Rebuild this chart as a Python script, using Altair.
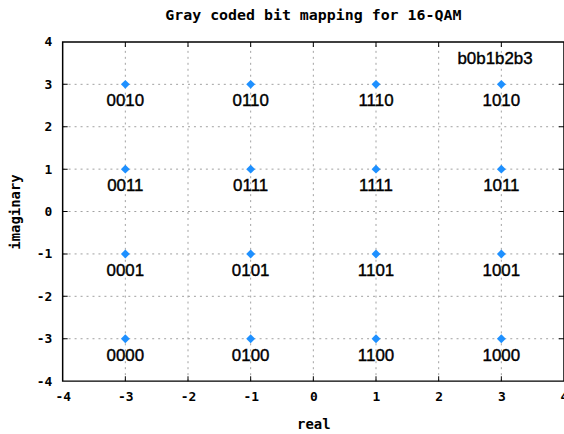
import altair as alt
import pandas as pd

re_vals = [-3, -1, 1, 3, -3, -1, 1, 3, -3, -1, 1, 3, -3, -1, 1, 3]
im_vals = [3, 3, 3, 3, 1, 1, 1, 1, -1, -1, -1, -1, -3, -3, -3, -3]
codes = ["0010", "0110", "1110", "1010",
         "0011", "0111", "1111", "1011",
         "0001", "0101", "1101", "1001",
         "0000", "0100", "1100", "1000"]
ticks = [-4, -3, -2, -1, 0, 1, 2, 3, 4]
inner = [-3, -2, -1, 0, 1, 2, 3]
edges = [-4, 4]
key_label = ["b0b1b2b3"]
key_x = [2.9]
key_y = [3.6]

df = pd.DataFrame({"re": re_vals, "im": im_vals, "code": codes})
key_df = pd.DataFrame({"re": key_x, "im": key_y, "t": key_label})
xt_df = pd.DataFrame([{"v": t, "e": e} for t in inner for e in edges])
grid_df = pd.DataFrame({"v": inner, "lo": [edges[0]] * len(inner), "hi": [edges[1]] * len(inner)})
frame_df = pd.DataFrame({"x0": [edges[0]], "x1": [edges[1]], "y0": [edges[0]], "y1": [edges[1]]})

mono = "DejaVu Sans Mono"
sans = "Liberation Sans"

xs = alt.Scale(domain=[-4, 4], nice=False, zero=False)
ys = alt.Scale(domain=[-4, 4], nice=False, zero=False)

common = dict(values=ticks, grid=False, labelFlush=False, labelOverlap=False,
              labelExpr="'' + datum.value", labelFont=mono, labelFontWeight="bold",
              labelFontSize=13, labelColor="black", titleFont=mono, titleFontWeight="bold",
              titleFontSize=14, titleColor="black", domain=False, ticks=False)
x_axis = alt.Axis(title="real", titlePadding=15, labelPadding=9, **common)
y_axis = alt.Axis(title="imaginary", titlePadding=14, labelPadding=11, **common)

gridx = alt.Chart(grid_df).mark_rule(color="#a0a0a0", strokeDash=[2, 4], strokeWidth=1).encode(
    x=alt.X("v:Q", scale=xs, axis=x_axis), y=alt.Y("lo:Q", scale=ys, axis=y_axis), y2="hi:Q"
)
gridy = alt.Chart(grid_df).mark_rule(color="#a0a0a0", strokeDash=[2, 4], strokeWidth=1).encode(
    y=alt.Y("v:Q", scale=ys), x=alt.X("lo:Q", scale=xs), x2="hi:Q"
)
frame = alt.Chart(frame_df).mark_rect(fill=None, filled=False, stroke="black", strokeWidth=1.5).encode(
    x=alt.X("x0:Q", scale=xs), x2="x1:Q", y=alt.Y("y0:Q", scale=ys), y2="y1:Q"
)
vticks = alt.Chart(xt_df).mark_tick(orient="vertical", size=10, thickness=1, color="black",
                                    clip=True, opacity=1).encode(
    x=alt.X("v:Q", scale=xs), y=alt.Y("e:Q", scale=ys)
)
hticks = alt.Chart(xt_df).mark_tick(orient="horizontal", size=10, thickness=1, color="black",
                                    clip=True, opacity=1).encode(
    x=alt.X("e:Q", scale=xs), y=alt.Y("v:Q", scale=ys)
)

base = alt.Chart(df)
pts = base.mark_point(shape="diamond", filled=True, size=80, color="#1e90ff", opacity=1).encode(
    x=alt.X("re:Q", scale=xs), y=alt.Y("im:Q", scale=ys),
)
lbl = base.mark_text(font=sans, fontSize=17, dy=17, color="black", stroke="black",
                     strokeWidth=0.4).encode(
    x=alt.X("re:Q", scale=xs), y=alt.Y("im:Q", scale=ys), text="code:N"
)
key = alt.Chart(key_df).mark_text(font=sans, fontSize=17, color="black", stroke="black",
                                  strokeWidth=0.4).encode(
    x=alt.X("re:Q", scale=xs), y=alt.Y("im:Q", scale=ys), text="t:N"
)

chart = alt.layer(gridx, gridy, frame, vticks, hticks, pts, lbl, key).properties(
    width=504, height=341,
    title=alt.Title("Gray coded bit mapping for 16-QAM", font=mono, fontWeight="bold",
                    fontSize=15, color="black", offset=13),
    autosize=alt.AutoSizeParams(type="none"),
    padding={"left": 63, "top": 41, "right": 0, "bottom": 52},
).configure(background="white").configure_view(strokeWidth=0)

chart.save("out.html", embed_options={"renderer": "svg", "actions": False})
